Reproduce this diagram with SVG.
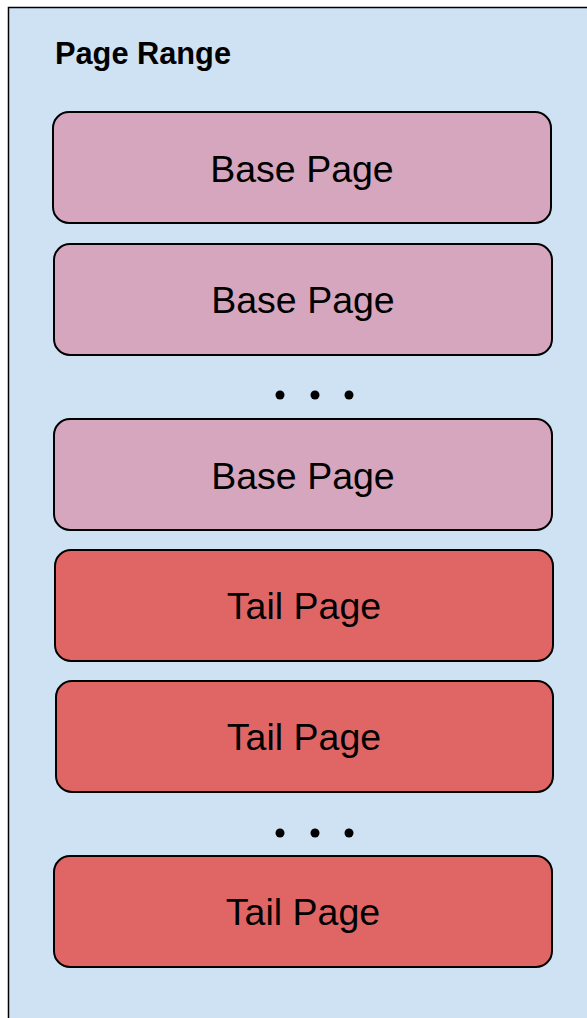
<svg xmlns="http://www.w3.org/2000/svg" width="587" height="1018" viewBox="0 0 587 1018">
  <style>
    .frame { fill: #cfe2f3; stroke: #000; stroke-width: 1.5; }
    .page { stroke: #000; stroke-width: 2; }
    .base { fill: #d5a6bd; }
    .tail { fill: #e06666; }
    .label { font-family: "Liberation Sans", Arial, sans-serif; font-size: 37.5px; fill: #000; text-anchor: middle; }
    .title { font-family: "Liberation Sans", Arial, sans-serif; font-size: 31px; font-weight: bold; fill: #000; }
    .dot { fill: #000; }
  </style>

  <!-- page range container -->
  <g id="page-range">
    <rect class="frame" x="8.5" y="7.5" width="600" height="1030"/>
    <text class="title" x="55" y="64" textLength="176" lengthAdjust="spacingAndGlyphs">Page Range</text>
  </g>

  <g id="base-page-1">
    <rect class="page base" x="53" y="112" width="498" height="111" rx="16"/>
    <text class="label" x="302" y="182">Base Page</text>
  </g>
  <g id="base-page-2">
    <rect class="page base" x="54" y="244" width="498" height="111" rx="16"/>
    <text class="label" x="303" y="313">Base Page</text>
  </g>
  <g id="base-ellipsis">
    <circle class="dot" cx="280" cy="395" r="4.5"/>
    <circle class="dot" cx="315" cy="395" r="4.5"/>
    <circle class="dot" cx="349" cy="395" r="4.5"/>
  </g>
  <g id="base-page-3">
    <rect class="page base" x="54" y="419" width="498" height="111" rx="16"/>
    <text class="label" x="303" y="489">Base Page</text>
  </g>

  <g id="tail-page-1">
    <rect class="page tail" x="55" y="550" width="498" height="111" rx="16"/>
    <text class="label" x="304" y="619">Tail Page</text>
  </g>
  <g id="tail-page-2">
    <rect class="page tail" x="56" y="681" width="497" height="111" rx="16"/>
    <text class="label" x="304" y="750">Tail Page</text>
  </g>
  <g id="tail-ellipsis">
    <circle class="dot" cx="280" cy="833" r="4.5"/>
    <circle class="dot" cx="315" cy="833" r="4.5"/>
    <circle class="dot" cx="349" cy="833" r="4.5"/>
  </g>
  <g id="tail-page-3">
    <rect class="page tail" x="54" y="856" width="498" height="111" rx="16"/>
    <text class="label" x="303" y="925">Tail Page</text>
  </g>

  <g id="connectors"/>
</svg>
